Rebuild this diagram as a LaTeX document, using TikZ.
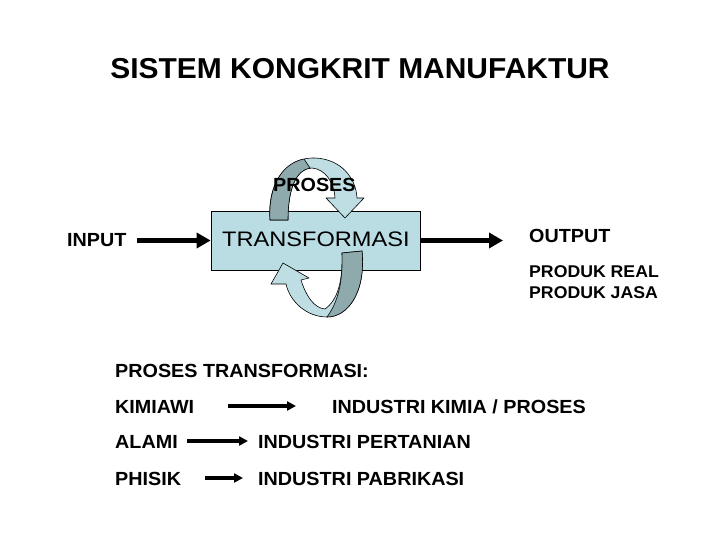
\documentclass[tikz,border=0pt]{standalone}
\usepackage{fontspec}
\usepackage{graphicx}
\setmainfont{Liberation Sans}[FakeStretch=1.04]
\usetikzlibrary{arrows.meta}
\definecolor{boxblue}{RGB}{185,221,227}
\definecolor{ribbonlight}{RGB}{190,222,228}
\definecolor{ribbondark}{RGB}{143,170,173}
\tikzset{
  txt/.style={anchor=base west,inner sep=0pt,font=\bfseries\fontsize{19}{22}\selectfont},
  smalltxt/.style={anchor=base west,inner sep=0pt,font=\bfseries\fontsize{17}{20}\selectfont},
  bigarrow/.style={line width=4.8pt,-{Triangle[length=14pt,width=15pt]}},
  smallarrow/.style={line width=3.2pt,-{Triangle[length=9pt,width=9pt]}},
  ribbon/.style={fill=ribbonlight,draw=black,line width=0.6pt,line join=round},
  ribbonback/.style={fill=ribbondark,draw=black,line width=0.6pt,line join=round}
}
\begin{document}
\begin{tikzpicture}[x=1pt,y=-1pt]
\useasboundingbox (0,0) rectangle (720,540);
\fill[white] (0,0) rectangle (720,540);

% title
\node[anchor=base,inner sep=0pt,font=\bfseries\fontsize{28.8}{32}\selectfont] (title) at (360,79) {SISTEM KONGKRIT MANUFAKTUR};

% transformation box
\node[draw=black,line width=0.7pt,fill=boxblue,minimum width=209pt,minimum height=59pt,inner sep=0pt] (box) at (315.5,240.5) {};
\node[anchor=base west,inner sep=0pt,font=\fontsize{21}{24}\selectfont] (boxtext) at (222,247) {\scalebox{1.08}[1]{TRANSFORMASI}};

% top curved arrow
\draw[ribbon] (270,220) .. controls (267,178) and (290,157) .. (315,158)
  .. controls (341,159) and (356,178) .. (357,198) -- (364,198) -- (345,218) -- (326,198) -- (335,198)
  .. controls (334,182) and (325,169) .. (312,168)
  .. controls (298,168) and (288,185) .. (288,220) -- cycle;
\draw[ribbonback] (270,220) .. controls (268,185) and (283,163) .. (304,159)
  -- (310,168) .. controls (297,170) and (288,187) .. (288,220) -- cycle;

% bottom curved arrow
\draw[ribbon] (362,251) .. controls (366,292) and (348,317) .. (327,317)
  .. controls (307,317) and (290,302) .. (286,284) -- (271,284) -- (283,263) -- (309,278) -- (301,280)
  .. controls (306,296) and (314,308) .. (325,309)
  .. controls (338,300) and (343,280) .. (342,253) -- cycle;
\draw[ribbonback] (342,253) -- (362,251) .. controls (366,292) and (348,317) .. (327,317)
  .. controls (338,302) and (343,282) .. (342,253) -- cycle;

\node[txt] (proses) at (273,192) {PROSES};

% input / output
\node[txt] (input) at (67,246) {INPUT};
\coordinate (instart) at (137,240.5);
\draw[bigarrow] (instart) -- (box.west);
\coordinate (outend) at (503,240.5);
\draw[bigarrow] (box.east) -- (outend);
\node[txt] (output) at (529,243) {OUTPUT};
\node[smalltxt] (real) at (529,277) {PRODUK REAL};
\node[smalltxt] (jasa) at (529,298) {PRODUK JASA};

% list
\node[txt] (head) at (115,377) {PROSES TRANSFORMASI:};
\node[txt] (kimiawi) at (115,413) {KIMIAWI};
\node[txt] (ikimia) at (332,413) {INDUSTRI KIMIA / PROSES};
\node[txt] (alami) at (115,448) {ALAMI};
\node[txt] (ipertanian) at (258,448) {INDUSTRI PERTANIAN};
\node[txt] (phisik) at (115,485) {PHISIK};
\node[txt] (ipabrikasi) at (258,485) {INDUSTRI PABRIKASI};

\coordinate (k1) at (228,406); \coordinate (k2) at (296,406);
\coordinate (a1) at (187,441); \coordinate (a2) at (248,441);
\coordinate (p1) at (205,478); \coordinate (p2) at (243,478);
\draw[smallarrow] (k1) -- (k2);
\draw[smallarrow] (a1) -- (a2);
\draw[smallarrow] (p1) -- (p2);
\end{tikzpicture}
\end{document}
